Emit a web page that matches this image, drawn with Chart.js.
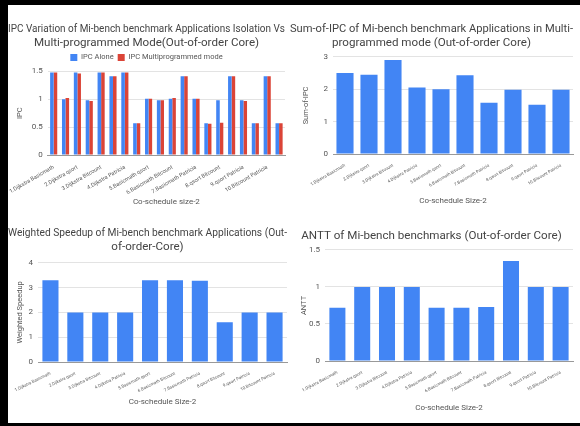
<!DOCTYPE html>
<html>
<head>
<meta charset="utf-8">
<script src="https://cdn.jsdelivr.net/npm/chart.js@4.4.1/dist/chart.umd.min.js"></script>
<style>
html,body{margin:0;padding:0;background:#fff}
body{width:580px;height:426px;position:relative;overflow:hidden;font-family:Roboto,sans-serif}
.edge{position:absolute;background:#000;z-index:10}
.box{position:absolute}
</style>
</head>
<body>
<div class="edge" style="left:0;top:0;width:580px;height:5px"></div>
<div class="edge" style="left:0;top:0;width:8px;height:426px"></div>
<div class="edge" style="left:0;top:423px;width:580px;height:3px"></div>
<div class="box" style="left:8px;top:5px;width:282px;height:210px"><canvas id="ipc"></canvas></div>
<div class="box" style="left:290px;top:5px;width:290px;height:210px"><canvas id="sumipc"></canvas></div>
<div class="box" style="left:8px;top:215px;width:282px;height:208px"><canvas id="ws"></canvas></div>
<div class="box" style="left:290px;top:215px;width:290px;height:208px"><canvas id="antt"></canvas></div>
<script>
// co-schedule pairs (size 2)
const pairLabels = ['1.Dijkstra Basicmath','2.Dijkstra qsort','3.Dijkstra Bitcount','4.Dijkstra Patricia','5.Basicmath qsort','6.Basicmath Bitcount','7.Basicmath Patricia','8.qsort Bitcount','9.qsort Patricia','10.Bitcount Patricia'];
// each app of each pair, in order
const appLabels = ['Dijkstra','Basicmath','Dijkstra','qsort','Dijkstra','Bitcount','Dijkstra','Patricia','Basicmath','qsort','Basicmath','Bitcount','Basicmath','Patricia','qsort','Bitcount','qsort','Patricia','Bitcount','Patricia'];

const ipcAlone = [1.48,1.00,1.48,0.98,1.48,1.41,1.48,0.57,1.01,0.98,1.01,1.41,1.01,0.57,0.98,1.41,0.98,0.57,1.41,0.57];
const ipcMulti = [1.48,1.02,1.46,0.97,1.48,1.41,1.48,0.57,1.01,0.98,1.02,1.41,1.01,0.56,0.58,1.41,0.97,0.57,1.41,0.57];
const sumIpc = [2.50,2.45,2.90,2.05,2.00,2.43,1.58,1.98,1.52,1.98];
const weightedSpeedup = [3.30,2.00,2.00,2.00,3.30,3.30,3.28,1.60,2.00,2.00];
const anttValues = [0.72,1.00,1.00,1.00,0.72,0.72,0.73,1.35,1.00,1.00];

const BLUE = '#4285f4';
const RED = '#db4437';
const TXT = '#444';

function barChart(id, cfg) {
    const ctx = document.getElementById(id).getContext('2d');
    return new Chart(ctx, {
        type: 'bar',
        data: { labels: cfg.labels, datasets: cfg.datasets },
        options: {
            responsive: true,
            maintainAspectRatio: false,
            animation: false,
            layout: { padding: { left: 0, right: cfg.padRight, top: 0, bottom: 0 } },
            plugins: {
                legend: cfg.legend || { display: false },
                tooltip: { enabled: false },
                title: {
                    display: true,
                    text: cfg.title,
                    color: TXT,
                    font: { family: 'Roboto', size: 11.6, weight: 'normal', lineHeight: 1.2 },
                    padding: cfg.titlePad
                }
            },
            scales: {
                x: {
                    grid: { display: false },
                    border: { color: '#999' },
                    afterFit: s => { s.height = cfg.xHeight; },
                    ticks: {
                        autoSkip: false,
                        minRotation: cfg.rot, maxRotation: cfg.rot,
                        color: '#555',
                        padding: 1,
                        font: { family: 'Roboto', size: cfg.tickSize },
                        callback: cfg.xTick
                    },
                    title: {
                        display: true, text: cfg.xTitle, color: '#555',
                        font: { family: 'Roboto', size: 8 },
                        padding: { top: 0, bottom: cfg.xTitlePad }
                    }
                },
                y: {
                    min: 0, max: cfg.yMax,
                    border: { display: false },
                    afterFit: s => { s.width = cfg.yWidth; },
                    grid: { color: '#e3e3e3', drawTicks: false },
                    ticks: {
                        stepSize: cfg.yStep,
                        padding: 5,
                        color: '#555',
                        font: { family: 'Roboto', size: 8 },
                        callback: v => String(v)
                    },
                    title: {
                        display: true, text: cfg.yTitle, color: '#555',
                        font: { family: 'Roboto', size: 7.5 },
                        padding: { top: cfg.yTitlePad, bottom: 0 }
                    }
                }
            }
        }
    });
}

function pairTick(value, index) {
    return pairLabels[index];
}

barChart('ipc', {
    labels: appLabels,
    datasets: [
        { label: 'IPC Alone', data: ipcAlone, backgroundColor: BLUE, barPercentage: 1, categoryPercentage: 0.6 },
        { label: 'IPC Multiprogrammed mode', data: ipcMulti, backgroundColor: RED, barPercentage: 1, categoryPercentage: 0.6 }
    ],
    legend: {
        display: true,
        labels: { boxWidth: 7, boxHeight: 7, padding: 4, color: '#555', font: { family: 'Roboto', size: 7.5 } }
    },
    title: ['IPC Variation of Mi-bench benchmark Applications Isolation Vs', 'Multi-programmed Mode(Out-of-order Core)'],
    titlePad: { top: 17, bottom: 0 },
    xTick: (v, i) => (i % 2 === 0 ? pairLabels[i / 2] : ''),
    rot: 30, tickSize: 5.5,
    xTitle: 'Co-schedule size-2', xTitlePad: 8, xHeight: 60,
    yTitle: 'IPC', yTitlePad: 7, yWidth: 39, yMax: 1.5, yStep: 0.5,
    padRight: 5
});

barChart('sumipc', {
    labels: pairLabels,
    datasets: [{ label: 'Sum-of-IPC', data: sumIpc, backgroundColor: BLUE, barPercentage: 0.95, categoryPercentage: 0.75 }],
    title: ['Sum-of-IPC of Mi-bench benchmark Applications in Multi-', 'programmed mode (Out-of-order Core)'],
    titlePad: { top: 17, bottom: 7 },
    xTick: pairTick,
    rot: 30, tickSize: 4.3,
    xTitle: 'Co-schedule Size-2', xTitlePad: 9, xHeight: 61,
    yTitle: 'Sum-of-IPC', yTitlePad: 12, yWidth: 43, yMax: 3, yStep: 1,
    padRight: 7
});

barChart('ws', {
    labels: pairLabels,
    datasets: [{ label: 'Weighted Speedup', data: weightedSpeedup, backgroundColor: BLUE, barPercentage: 0.95, categoryPercentage: 0.68 }],
    title: ['Weighted Speedup of Mi-bench benchmark Applications (Out-', 'of-order-Core)'],
    titlePad: { top: 11, bottom: 9 },
    xTick: pairTick,
    rot: 26, tickSize: 4.3,
    xTitle: 'Co-schedule Size-2', xTitlePad: 16, xHeight: 61,
    yTitle: 'Weighted Speedup', yTitlePad: 8, yWidth: 30, yMax: 4, yStep: 1,
    padRight: 3
});

barChart('antt', {
    labels: pairLabels,
    datasets: [{ label: 'ANTT', data: anttValues, backgroundColor: BLUE, barPercentage: 0.95, categoryPercentage: 0.68 }],
    title: 'ANTT of Mi-bench benchmarks (Out-of-order Core)',
    titlePad: { top: 14, bottom: 7 },
    xTick: pairTick,
    rot: 28, tickSize: 4.3,
    xTitle: 'Co-schedule Size-2', xTitlePad: 10, xHeight: 62,
    yTitle: 'ANTT', yTitlePad: 10, yWidth: 35, yMax: 1.5, yStep: 0.5,
    padRight: 7
});
</script>
</body>
</html>
